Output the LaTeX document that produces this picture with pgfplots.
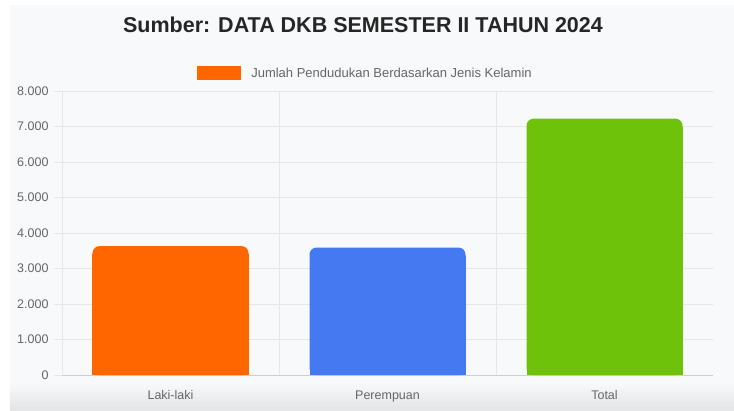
\documentclass[border=0pt]{standalone}
\usepackage{pgfplots}
\pgfplotsset{compat=1.18}
\usepackage{fontspec}
\setmainfont{Liberation Sans}
\definecolor{panel}{HTML}{F8F9FB}
\definecolor{panelbot}{HTML}{E3E4E6}
\definecolor{gridc}{HTML}{E6E7E9}
\definecolor{axisc}{HTML}{CDCED0}
\definecolor{ticktext}{HTML}{666666}
\definecolor{barorange}{HTML}{FF6600}
\definecolor{barblue}{HTML}{4479F2}
\definecolor{bargreen}{HTML}{6EC30A}
\begin{document}
\begin{tikzpicture}[x=1pt,y=1pt]
\fill[white] (-62,-35) rectangle (672,375);
\fill[panel] (-52,-8) rectangle (672,370);
\shade[top color=panel, bottom color=panelbot] (-52,-35) rectangle (672,-8);
\node[font=\fontsize{21.5}{24}\selectfont\bfseries, text=black!85] at (301,350) {Sumber: DATA DKB SEMESTER II TAHUN 2024};
\begin{axis}[
  at={(0,0)}, anchor=south west,
  scale only axis, width=651pt, height=284pt,
  xmin=-0.5, xmax=2.5, ymin=0, ymax=8000,
  xtick={0,1,2}, xticklabels={Laki-laki,Perempuan,Total},
  extra x ticks={-0.5,0.5,1.5}, extra x tick labels={},
  extra x tick style={grid=major, major tick length=8pt, tick style={draw=gridc}, major grid style={draw=gridc}},
  ytick={0,1000,...,8000},
  ymajorgrids, major grid style={draw=gridc, line width=0.8pt},
  axis x line*=bottom, axis y line*=left,
  axis line style={draw=axisc, line width=0.8pt},
  tick align=outside, major tick length=8pt,
  xtick style={draw=none},
  ytick style={draw=gridc, line width=0.8pt},
  ticklabel style={font=\fontsize{12.5}{14}\selectfont, text=ticktext},
  /pgf/number format/.cd, 1000 sep={.}, assume math mode=true,
  /pgfplots/.cd,
  yticklabel style={xshift=-2pt},
  xticklabel style={yshift=-4pt},
  ybar, bar width=156pt, bar shift=0pt,
  legend style={at={(0.4662,1.063)}, anchor=center, draw=none, fill=none,
    font=\fontsize{13}{15}\selectfont, text=ticktext,
    legend cell align=left, inner sep=0pt},
  legend image code/.code={\fill[barorange, sharp corners] (0pt,-7pt) rectangle (44pt,7pt);},
  clip=false,
]
\addplot[fill=barorange, draw=none, rounded corners=7pt] coordinates {(0,3630)};
\addlegendentry{\hspace{8pt}Jumlah Pendudukan Berdasarkan Jenis Kelamin}
\addplot[fill=barorange, draw=none, forget plot] coordinates {(0,3400)};
\addplot[fill=barblue, draw=none, rounded corners=7pt, forget plot] coordinates {(1,3590)};
\addplot[fill=barblue, draw=none, forget plot] coordinates {(1,3350)};
\addplot[fill=bargreen, draw=none, rounded corners=7pt, forget plot] coordinates {(2,7220)};
\addplot[fill=bargreen, draw=none, forget plot] coordinates {(2,6980)};
\end{axis}
\end{tikzpicture}
\end{document}
